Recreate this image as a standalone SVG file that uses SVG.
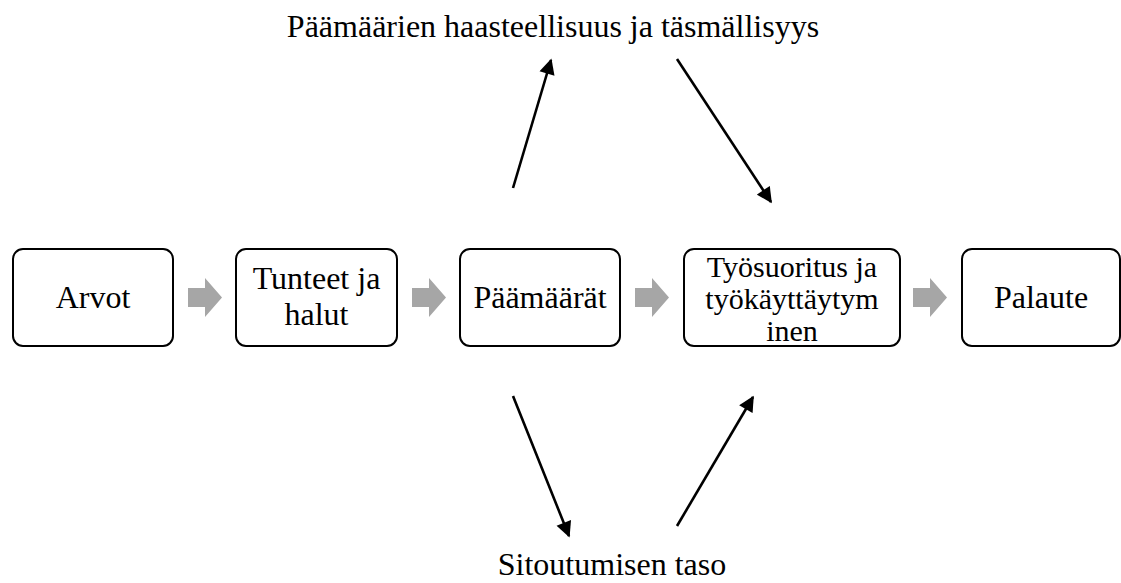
<svg xmlns="http://www.w3.org/2000/svg" width="1121" height="583" viewBox="0 0 1121 583">
<style>
.box{fill:#fff;stroke:#000;stroke-width:2}
text{font-family:"Liberation Serif","Times New Roman",serif;font-size:32px;fill:#000;text-anchor:middle}
.small{font-size:30px}
.chev{fill:#a6a6a6}
.con{stroke:#000;stroke-width:2.6;fill:none;marker-end:url(#ah)}
</style>
<defs>
<marker id="ah" viewBox="0 0 10 10" refX="9" refY="5" markerWidth="6.5" markerHeight="6" orient="auto" markerUnits="strokeWidth">
<path d="M0,0 L10,5 L0,10 z" fill="#000"/>
</marker>
<path id="chev" d="M0,10 H17 V0 L34,19.5 L17,39 V29 H0 z"/>
</defs>
<rect width="1121" height="583" fill="#fff"/>
<g id="arvot"><rect class="box" x="13" y="249" width="160" height="97" rx="10"/><text x="93" y="308">Arvot</text></g>
<g id="tunteet"><rect class="box" x="236" y="249" width="161" height="97" rx="10"/><text x="316.5" y="289">Tunteet ja</text><text x="316.5" y="325">halut</text></g>
<g id="paamaarat"><rect class="box" x="460" y="249" width="160" height="97" rx="10"/><text x="540" y="308">Päämäärät</text></g>
<g id="tyosuoritus"><rect class="box" x="684" y="249" width="216" height="97" rx="10"/><text class="small" x="792" y="277">Työsuoritus ja</text><text class="small" x="792" y="309">työkäyttäytym</text><text class="small" x="792" y="341">inen</text></g>
<g id="palaute"><rect class="box" x="962" y="249" width="158" height="97" rx="10"/><text x="1041" y="308">Palaute</text></g>
<g id="haasteellisuus"><text x="553" y="37">Päämäärien haasteellisuus ja täsmällisyys</text></g>
<g id="sitoutuminen"><text x="612" y="575">Sitoutumisen taso</text></g>
<g id="connectors">
<use href="#chev" class="chev" x="188" y="278"/>
<use href="#chev" class="chev" x="412" y="278"/>
<use href="#chev" class="chev" x="635" y="278"/>
<use href="#chev" class="chev" x="913" y="278"/>
<line class="con" x1="513" y1="188" x2="551" y2="60"/>
<line class="con" x1="677" y1="59" x2="771" y2="202"/>
<line class="con" x1="513" y1="396" x2="569" y2="536"/>
<line class="con" x1="677" y1="526" x2="753" y2="397"/>
</g>
</svg>
